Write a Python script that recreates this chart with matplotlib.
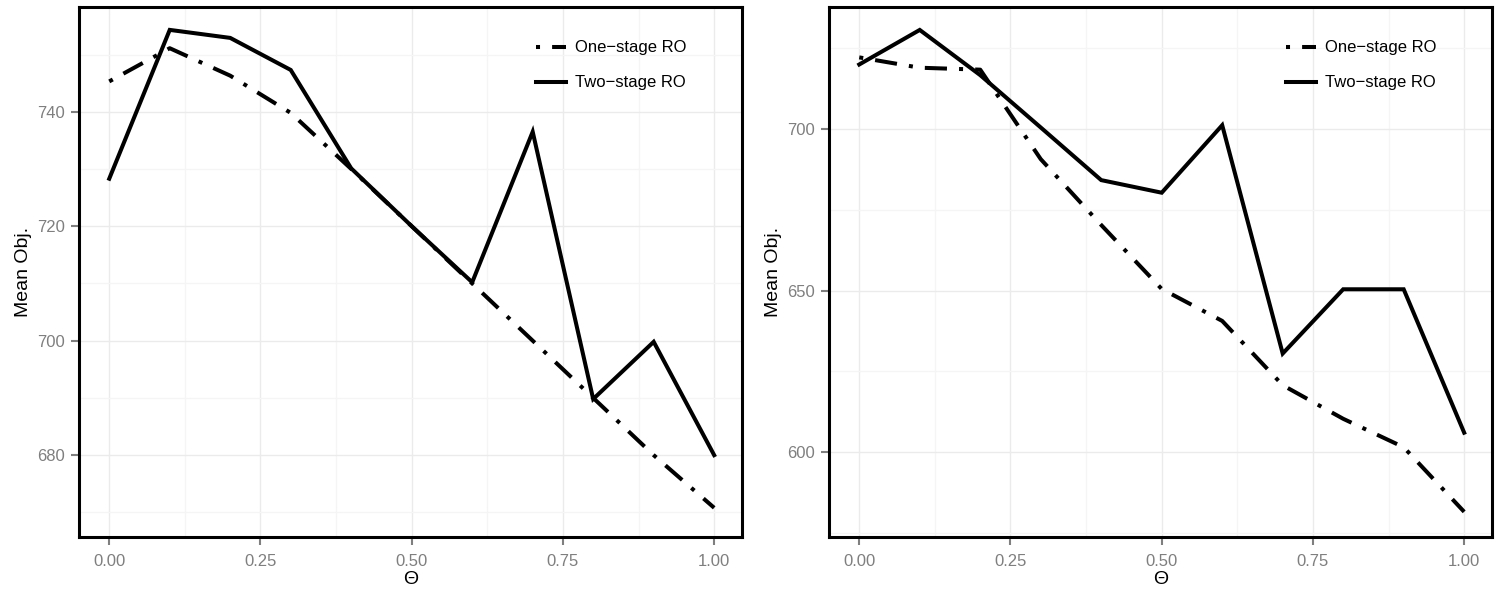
import matplotlib
matplotlib.use("Agg")
import matplotlib.pyplot as plt
from matplotlib.ticker import MultipleLocator, FixedLocator

theta = [0.0, 0.1, 0.2, 0.3, 0.4, 0.5, 0.6, 0.7, 0.8, 0.9, 1.0]

left_one = [745.3, 751.1, 746.3, 739.8, 730.0, 720.0, 710.0, 700.0, 690.0, 680.0, 670.8]
left_two = [728.3, 754.3, 752.9, 747.3, 730.1, 720.0, 710.2, 736.5, 689.8, 699.8, 680.0]

right_one = [722.2, 719.0, 718.4, 690.7, 670.3, 650.5, 640.6, 620.7, 610.3, 601.5, 581.5]
right_two = [720.0, 730.7, 716.7, 700.5, 684.2, 680.3, 701.2, 630.5, 650.4, 650.4, 606.0]

x_ticks = [0.0, 0.25, 0.5, 0.75, 1.0]
x_labels = ["0.00", "0.25", "0.50", "0.75", "1.00"]
left_yticks = [680, 700, 720, 740]
right_yticks = [600, 650, 700]
series_labels = ["One\u2212stage RO", "Two\u2212stage RO"]

plt.rcParams['font.family'] = ['Liberation Sans', 'DejaVu Sans']

fig = plt.figure(figsize=(15, 6), dpi=100)
ax1 = fig.add_axes([79/1500, 1-537/600, 663/1500, 530/600])
ax2 = fig.add_axes([829/1500, 1-537/600, 663/1500, 530/600])

panels = [
    (ax1, left_one, left_two, left_yticks, (665.7, 758.3), 10),
    (ax2, right_one, right_two, right_yticks, (573.7, 737.8), 25),
]

for ax, one, two, yt, ylim, minor in panels:
    ax.plot(theta, one, color='black', lw=2.9, dashes=(1, 3, 5.5, 3),
            dash_capstyle='butt', label=series_labels[0])
    ax.plot(theta, two, color='black', lw=2.9, solid_joinstyle='miter',
            label=series_labels[1])
    ax.set_xlim(-0.05, 1.046)
    ax.set_ylim(*ylim)
    ax.set_xticks(x_ticks)
    ax.set_xticklabels(x_labels)
    ax.set_yticks(yt)
    ax.xaxis.set_minor_locator(FixedLocator([0.125, 0.375, 0.625, 0.875]))
    ax.yaxis.set_minor_locator(MultipleLocator(minor))
    ax.grid(which='major', color='#EBEBEB', lw=1.0)
    ax.grid(which='minor', color='#F5F5F5', lw=1.0)
    ax.set_axisbelow(True)
    ax.tick_params(which='minor', length=0)
    ax.tick_params(which='major', direction='out', length=6, width=1.5,
                   color='#7F7F7F', labelcolor='#7F7F7F', labelsize=12)
    ax.tick_params(axis='x', pad=6)
    ax.tick_params(axis='y', pad=4)
    for s in ax.spines.values():
        s.set_linewidth(2.2)
        s.set_color('black')
    ax.set_xlabel("\u0398", fontsize=14, labelpad=2)
    ax.set_ylabel("Mean Obj.", fontsize=14, labelpad=4)
    ax.legend(loc='upper left', bbox_to_anchor=(0.69, 0.937), frameon=False,
              fontsize=12, handlelength=1.75, handletextpad=0.55,
              labelspacing=1.2, borderpad=0, borderaxespad=0)

fig.savefig("out.png", dpi=100)
